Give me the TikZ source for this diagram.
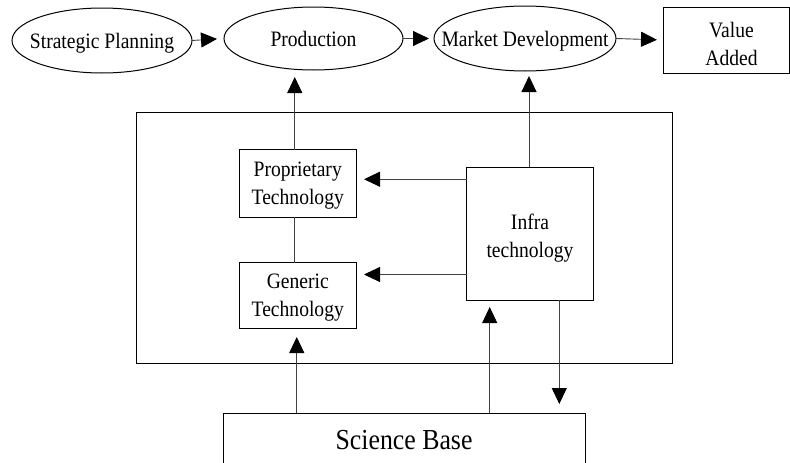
\documentclass[tikz,border=0pt]{standalone}
\usepackage{fontspec}
\setmainfont[FakeStretch=0.89]{Liberation Serif}
\usetikzlibrary{shapes.geometric,arrows.meta}
\tikzset{
  lbl/.style={font=\fontsize{22}{28}\selectfont, text depth=0pt},
  oval/.style={ellipse, draw, line width=1pt, inner sep=0pt, outer sep=0pt, lbl},
  box/.style={rectangle, draw, line width=1pt, inner sep=0pt, outer sep=0pt, align=center, lbl},
  link/.style={line width=0.9pt, draw=black!75},
  arr/.style={link, -{Triangle[length=16pt,width=15pt,color=black,fill=black]}},
}
\begin{document}
\begin{tikzpicture}[x=1pt,y=-1pt]
  \clip (0,0) rectangle (790,463);

  % top chain
  \node[oval, minimum width=180pt, minimum height=65pt] (sp)   at (102,40.5)  {\makebox[0pt]{Strategic Planning}};
  \node[oval, minimum width=179pt, minimum height=63pt] (prod) at (313.5,38.5) {\makebox[0pt]{Production}};
  \node[oval, minimum width=182pt, minimum height=65pt] (md)   at (525,38.5)  {\makebox[0pt]{Market Development}};
  \node[box, minimum width=126pt, minimum height=66pt, text height=51pt] (va) at (726,40) {\hspace*{11pt}Value\\\hspace*{11pt}Added};

  % technology frame and its contents
  \node[box, minimum width=536pt, minimum height=251pt] (core) at (404,238) {};
  \node[box, minimum width=116.5pt, minimum height=67.5pt] (prop) at (297.75,183.25) {Proprietary\\Technology};
  \node[box, minimum width=116.5pt, minimum height=66pt]   (gen)  at (297.75,295.5)  {Generic\\Technology};
  \node[box, minimum width=126.6pt, minimum height=133pt, text height=47pt] (infra) at (530,233.5) {Infra\\technology};

  % science base, running past the lower edge
  \node[box, minimum width=362pt, minimum height=54pt, font=\fontsize{29}{34}\selectfont] (sci) at (404,440) {Science Base};

  % top chain arrows
  \draw[arr, shorten >=7pt] (sp.east) -- (prod.west);
  \draw[arr, shorten >=5pt] (prod.east) -- (md.west);
  \draw[arr, shorten >=6pt] (md.east) -- (va.west);

  % upward links to the chain
  \draw[arr, shorten >=7pt] ([xshift=-3pt]prop.north) -- ([xshift=-3pt]prop.north |- prod.south);
  \draw[arr, shorten >=5pt] ([xshift=-1pt]infra.north) -- ([xshift=-1pt]infra.north |- md.south);

  % links inside the frame
  \draw[link] ([xshift=-3pt]prop.south) -- ([xshift=-3pt]gen.north);
  \draw[arr, shorten >=8pt] ([yshift=4pt]prop.east -| infra.west) -- ([yshift=4pt]prop.east);
  \draw[arr, shorten >=8pt] ([yshift=21pt]gen.east -| infra.west) -- ([yshift=21pt]gen.east);

  % links with the science base
  \draw[arr, shorten >=8.5pt] ([xshift=-1pt]gen.south |- sci.north) -- ([xshift=-1pt]gen.south);
  \draw[arr, shorten >=7pt] ([xshift=23pt]infra.south west |- sci.north) -- ([xshift=23pt]infra.south west);
  \draw[arr, shorten >=9pt] ([xshift=-34pt]infra.south east) -- ([xshift=-34pt]infra.south east |- sci.north);
\end{tikzpicture}
\end{document}
